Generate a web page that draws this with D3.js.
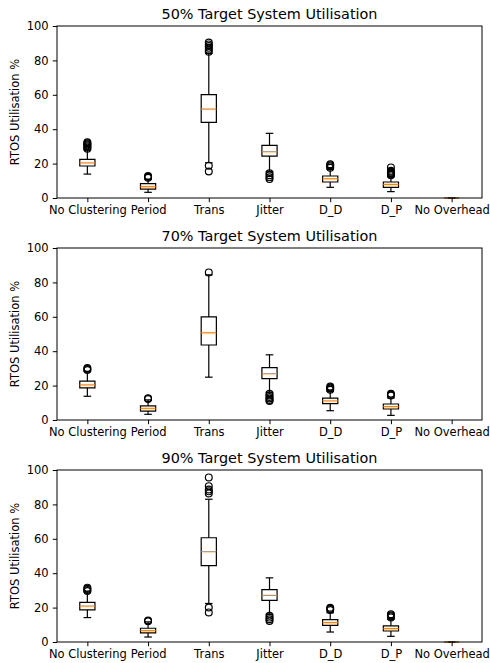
<!DOCTYPE html>
<html><head><meta charset="utf-8">
<script src="https://cdn.jsdelivr.net/npm/d3@7"></script>
<style>
body{margin:0;background:#fff;}
svg{display:block;font-family:"DejaVu Sans",sans-serif;}
</style></head>
<body>
<svg id="chart" width="490" height="663"></svg>
<script>
const categories = ["No Clustering","Period","Trans","Jitter","D_D","D_P","No Overhead"];
const titles = ["50% Target System Utilisation","70% Target System Utilisation","90% Target System Utilisation"];
const yTicks = [0,20,40,60,80,100];
const yLabel = "RTOS Utilisation %";

// 50% target
const u50_whiskerLow  = [13.9, 3.3, 20.5, 15.3, 6.2, 3.7, 0];
const u50_q1          = [18.6, 5.2, 44.0, 24.4, 9.3, 6.2, 0];
const u50_median      = [20.4, 6.6, 51.7, 26.9, 11.2, 7.9, 0];
const u50_q3          = [22.5, 8.3, 60.1, 30.6, 12.8, 9.3, 0];
const u50_whiskerHigh = [28.0, 10.9, 84.1, 37.6, 16.7, 12.4, 0];
const u50_outliers    = [[28.6,29.3,30.0,30.6,31.2,31.8,32.4],[11.8,12.3,12.8],[85.0,86.2,87.3,88.3,89.3,90.4,15.4,18.8],[14.4,13.2,12.0,11.0],[17.6,18.4,19.1,19.6],[13.2,13.7,14.2,14.7,15.2,15.8,17.8],[]];

// 70% target
const u70_whiskerLow  = [13.8, 3.3, 24.9, 16.1, 5.4, 2.7, null];
const u70_q1          = [18.7, 5.2, 43.6, 24.0, 9.5, 6.4, null];
const u70_median      = [20.4, 6.8, 50.7, 26.9, 11.1, 7.8, null];
const u70_q3          = [22.6, 8.2, 59.9, 30.4, 12.7, 9.3, null];
const u70_whiskerHigh = [28.2, 11.7, 84.4, 37.9, 16.7, 12.8, null];
const u70_outliers    = [[29.0,29.6,30.2],[12.2,12.7],[85.8],[15.2,14.3,13.4,12.5,11.7,11.0],[17.6,18.3,18.9,19.5],[14.2,14.7,15.3],[]];

// 90% target
const u90_whiskerLow  = [14.2, 2.9, 22.4, 16.2, 5.8, 3.3, 0];
const u90_q1          = [18.7, 5.3, 44.4, 24.2, 9.7, 6.4, 0];
const u90_median      = [20.9, 6.6, 52.5, 27.1, 11.3, 7.8, 0];
const u90_q3          = [23.0, 8.0, 60.6, 30.4, 13.0, 9.4, 0];
const u90_whiskerHigh = [29.1, 11.7, 83.0, 37.3, 17.0, 13.3, 0];
const u90_outliers    = [[29.6,30.3,31.0,31.6],[12.0,12.5],[86.4,87.6,88.7,90.6,95.7,20.1,17.2],[15.2,14.2,13.2,12.2],[18.6,19.3,19.9],[14.3,14.9,15.5,16.2],[]];

const panels = [
  {title: titles[0], lo: u50_whiskerLow, q1: u50_q1, med: u50_median, q3: u50_q3, hi: u50_whiskerHigh, out: u50_outliers},
  {title: titles[1], lo: u70_whiskerLow, q1: u70_q1, med: u70_median, q3: u70_q3, hi: u70_whiskerHigh, out: u70_outliers},
  {title: titles[2], lo: u90_whiskerLow, q1: u90_q1, med: u90_median, q3: u90_q3, hi: u90_whiskerHigh, out: u90_outliers}
];

const svg = d3.select("#chart");
const left = 57, right = 482, ph = 172;
const tops = [26, 248, 470];
const fs = 11.5;

const x = d3.scaleLinear().domain([0.5, categories.length + 0.5]).range([left, right]);
const boxW = x(1.25) - x(1);   // half width 0.25 units
const capW = boxW / 2;

panels.forEach((p, pi) => {
  const top = tops[pi];
  const y = d3.scaleLinear().domain([0, 100]).range([top + ph, top]);
  const g = svg.append("g");

  g.append("rect").attr("x", left).attr("y", top).attr("width", right - left).attr("height", ph)
    .attr("fill", "none").attr("stroke", "#000").attr("stroke-width", 1);

  categories.forEach((c, i) => {
    if (p.q1[i] == null) return;
    const cx = x(i + 1);
    const bg = g.append("g").attr("stroke", "#000").attr("stroke-width", 1.2).attr("fill", "none");
    bg.append("line").attr("x1", cx).attr("x2", cx).attr("y1", y(p.q1[i])).attr("y2", y(p.lo[i]));
    bg.append("line").attr("x1", cx).attr("x2", cx).attr("y1", y(p.q3[i])).attr("y2", y(p.hi[i]));
    bg.append("line").attr("x1", cx - capW/2).attr("x2", cx + capW/2).attr("y1", y(p.lo[i])).attr("y2", y(p.lo[i]));
    bg.append("line").attr("x1", cx - capW/2).attr("x2", cx + capW/2).attr("y1", y(p.hi[i])).attr("y2", y(p.hi[i]));
    const x0 = cx - boxW/2, x1 = cx + boxW/2, yq1 = y(p.q1[i]), yq3 = y(p.q3[i]);
    bg.append("path").attr("d", `M${x0},${yq1}L${x1},${yq1}L${x1},${yq3}L${x0},${yq3}Z`);
    g.append("line").attr("x1", x0).attr("x2", x1)
      .attr("y1", y(p.med[i])).attr("y2", y(p.med[i]))
      .attr("stroke", "#ff7f0e").attr("stroke-width", 1.2)
      .attr("stroke-opacity", p.q3[i] === p.q1[i] ? 0.35 : 1);
    g.selectAll(null).data(p.out[i]).enter().append("circle")
      .attr("cx", cx).attr("cy", d => y(d)).attr("r", 3.4)
      .attr("fill", "none").attr("stroke", "#000").attr("stroke-width", 1.2);
  });

  const ya = g.append("g").attr("transform", `translate(${left},0)`)
    .call(d3.axisLeft(y).tickValues(yTicks).tickSize(4.2).tickPadding(4.2).tickFormat(d3.format("d")));
  ya.select(".domain").remove();
  ya.selectAll("line").attr("stroke-width", 1);
  ya.selectAll("text").attr("font-size", fs).attr("font-family", "DejaVu Sans").attr("fill", "#000");

  const xa = g.append("g").attr("transform", `translate(0,${top + ph})`)
    .call(d3.axisBottom(x).tickValues(d3.range(1, categories.length + 1)).tickSize(4.2).tickPadding(3.5)
      .tickFormat(d => categories[d - 1]));
  xa.select(".domain").remove();
  xa.selectAll("line").attr("stroke-width", 1);
  xa.selectAll("text").attr("font-size", fs).attr("font-family", "DejaVu Sans").attr("fill", "#000");

  g.append("text").attr("x", (left + right) / 2).attr("y", top - 7)
    .attr("text-anchor", "middle").attr("font-size", 14.4).attr("fill", "#000").text(p.title);

  g.append("text").attr("transform", `translate(19,${top + ph/2}) rotate(-90)`)
    .attr("text-anchor", "middle").attr("font-size", fs).attr("fill", "#000").text(yLabel);
});
</script>
</body></html>
